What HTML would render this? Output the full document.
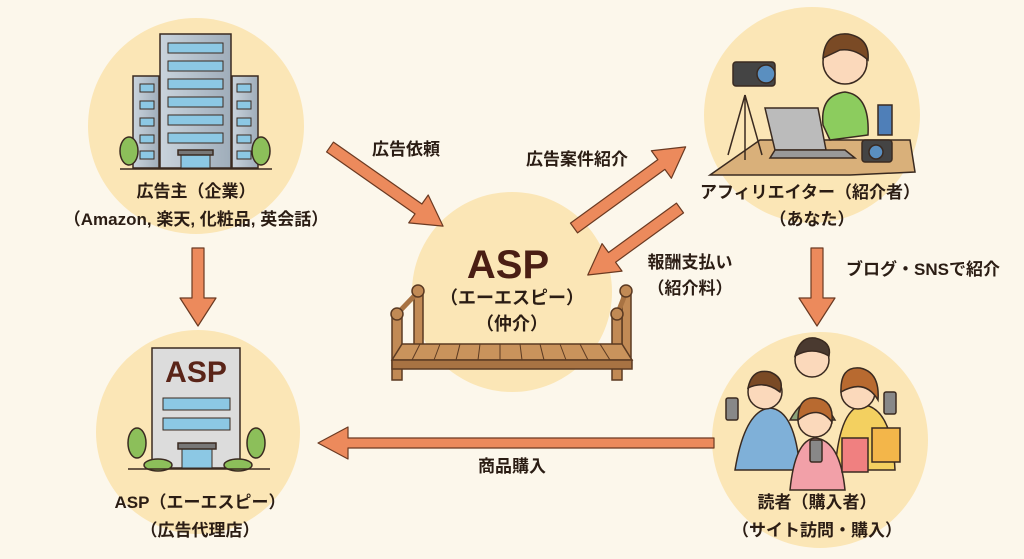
<!DOCTYPE html>
<html><head><meta charset="utf-8"><style>
html,body{margin:0;padding:0;background:#fcf7eb;}
svg{display:block;}
text{font-family:"Liberation Sans","Noto Sans CJK JP",sans-serif;fill:#2b1d14;font-weight:bold;}
</style></head><body>
<svg width="1024" height="559" viewBox="0 0 1024 559" xmlns="http://www.w3.org/2000/svg">
<defs>
<linearGradient id="bld" x1="0" x2="1"><stop offset="0" stop-color="#c9d3dc"/><stop offset="1" stop-color="#9fadba"/></linearGradient>
</defs>
<rect width="1024" height="559" fill="#fcf7eb"/>
<circle cx="196" cy="126" r="108" fill="#fbe6b6"/>
<circle cx="512" cy="292" r="100" fill="#fbe6b6"/>
<circle cx="812" cy="115" r="108" fill="#fbe6b6"/>
<circle cx="198" cy="432" r="102" fill="#fbe6b6"/>
<circle cx="820" cy="440" r="108" fill="#fbe6b6"/>

<g stroke="#3a2a20" stroke-width="1.5">
<rect x="133" y="76" width="26" height="92" fill="url(#bld)"/>
<rect x="232" y="76" width="26" height="92" fill="url(#bld)"/>
<rect x="160" y="34" width="71" height="134" fill="url(#bld)"/>
<g fill="#8cc8e4" stroke-width="1">
<rect x="168" y="43" width="55" height="10"/><rect x="168" y="61" width="55" height="10"/>
<rect x="168" y="79" width="55" height="10"/><rect x="168" y="97" width="55" height="10"/>
<rect x="168" y="115" width="55" height="10"/><rect x="168" y="133" width="55" height="10"/>
<rect x="140" y="84" width="14" height="8"/><rect x="140" y="101" width="14" height="8"/><rect x="140" y="118" width="14" height="8"/><rect x="140" y="135" width="14" height="8"/><rect x="140" y="151" width="14" height="8"/>
<rect x="237" y="84" width="14" height="8"/><rect x="237" y="101" width="14" height="8"/><rect x="237" y="118" width="14" height="8"/><rect x="237" y="135" width="14" height="8"/><rect x="237" y="151" width="14" height="8"/>
<rect x="181" y="154" width="29" height="14"/>
</g>
<rect x="178" y="150" width="35" height="5" fill="#777"/>
<ellipse cx="129" cy="151" rx="9" ry="14" fill="#8cbf5a"/><ellipse cx="261" cy="151" rx="9" ry="14" fill="#8cbf5a"/>
<line x1="120" y1="169" x2="272" y2="169"/>
</g>

<g stroke="#3a2a20" stroke-width="1.5">
<rect x="152" y="348" width="88" height="120" fill="#dcdcdc"/>
<g fill="#8cc8e4" stroke-width="1">
<rect x="163" y="398" width="67" height="12"/><rect x="163" y="418" width="67" height="12"/>
<rect x="182" y="448" width="30" height="20"/>
</g>
<rect x="178" y="443" width="38" height="6" fill="#777"/>
<ellipse cx="137" cy="443" rx="9" ry="15" fill="#8cbf5a"/><ellipse cx="256" cy="443" rx="9" ry="15" fill="#8cbf5a"/>
<ellipse cx="158" cy="465" rx="14" ry="6" fill="#8cbf5a"/><ellipse cx="238" cy="465" rx="14" ry="6" fill="#8cbf5a"/>
<line x1="128" y1="469" x2="270" y2="469"/>
</g>
<text x="196" y="382" font-size="30" text-anchor="middle" style="fill:#5a2418">ASP</text>

<g stroke="#5b3a22" stroke-width="1.5" fill="#c18a55">
<rect x="392" y="315" width="10" height="65"/><rect x="414" y="292" width="9" height="75"/>
<rect x="622" y="292" width="9" height="75"/><rect x="612" y="315" width="10" height="65"/>
<line x1="396" y1="315" x2="418" y2="292" stroke-width="5" stroke="#a87343"/>
<line x1="626" y1="292" x2="617" y2="315" stroke-width="5" stroke="#a87343"/>
<circle cx="397" cy="314" r="6"/><circle cx="418" cy="291" r="6"/><circle cx="626" cy="291" r="6"/><circle cx="617" cy="314" r="6"/>
<polygon points="402,344 622,344 632,360 392,360" fill="#c9935c"/>
<rect x="392" y="360" width="240" height="9" fill="#a87343"/>
<g stroke-width="1"><line x1="420" y1="344" x2="412" y2="360"/><line x1="440" y1="344" x2="434" y2="360"/><line x1="460" y1="344" x2="456" y2="360"/><line x1="480" y1="344" x2="478" y2="360"/><line x1="500" y1="344" x2="500" y2="360"/><line x1="520" y1="344" x2="522" y2="360"/><line x1="540" y1="344" x2="544" y2="360"/><line x1="560" y1="344" x2="566" y2="360"/><line x1="580" y1="344" x2="588" y2="360"/><line x1="600" y1="344" x2="610" y2="360"/></g>
</g>

<g stroke="#3a2a20" stroke-width="1.5">
<polygon points="710,175 760,140 910,140 915,172 850,175" fill="#d9b07a"/>
<line x1="745" y1="95" x2="728" y2="155"/><line x1="745" y1="95" x2="745" y2="160"/><line x1="745" y1="95" x2="762" y2="155"/>
<rect x="733" y="62" width="42" height="24" rx="3" fill="#444"/><circle cx="766" cy="74" r="9" fill="#5a8fc0"/>
<rect x="878" y="105" width="14" height="30" fill="#4f7fb8"/>
<path d="M823,125 Q820,95 845,92 Q870,95 868,135 L830,140 Z" fill="#8ccc5e"/>
<circle cx="845" cy="62" r="22" fill="#fbd9bb"/>
<path d="M823,58 Q825,32 848,34 Q870,38 868,60 Q855,48 840,50 Z" fill="#7a4a25"/>
<polygon points="765,108 818,108 826,150 775,150" fill="#bbbbbb"/>
<polygon points="775,150 845,150 855,158 770,158" fill="#999"/>
<rect x="862" y="140" width="30" height="22" rx="3" fill="#444"/><circle cx="876" cy="152" r="7" fill="#5a8fc0"/>
</g>

<g stroke="#3a2a20" stroke-width="1.5">
<path d="M735,470 Q745,410 770,408 Q795,410 800,470 Z" fill="#7fb0d8"/>
<path d="M790,420 Q812,380 835,420 Z" fill="#8ca37a"/>
<path d="M835,470 Q840,405 865,405 Q892,410 895,470 Z" fill="#f3d060"/>
<path d="M790,490 Q795,440 815,438 Q840,440 845,490 Z" fill="#f2a0a8"/>
<circle cx="765" cy="392" r="17" fill="#fbd9bb"/><path d="M748,388 Q752,368 770,372 Q785,378 780,392 Q765,380 748,388Z" fill="#7a4a25"/>
<circle cx="812" cy="360" r="17" fill="#fbd9bb"/><path d="M795,356 Q800,336 815,338 Q832,342 829,356 Q812,346 795,356Z" fill="#4a3a30"/>
<circle cx="858" cy="392" r="17" fill="#fbd9bb"/><path d="M841,392 Q840,366 860,368 Q880,372 878,400 Q865,378 841,392Z" fill="#b86a30"/>
<circle cx="815" cy="420" r="17" fill="#fbd9bb"/><path d="M798,420 Q798,396 816,398 Q834,400 832,422 Q818,404 798,420Z" fill="#b86a30"/>
<rect x="726" y="398" width="12" height="22" rx="2" fill="#888"/>
<rect x="884" y="392" width="12" height="22" rx="2" fill="#888"/>
<rect x="810" y="440" width="12" height="22" rx="2" fill="#888"/>
<rect x="842" y="438" width="26" height="34" fill="#f08080"/>
<rect x="872" y="428" width="28" height="34" fill="#f3b64a"/>
</g>

<g fill="#ec8a5c" stroke="#6b3a22" stroke-width="1.2" stroke-linejoin="round">
<polygon transform="translate(330,147) rotate(35)" points="0,-6 108,-6 108,-17 138,0 108,17 108,6 0,6"/>
<polygon transform="translate(574,228) rotate(-36)" points="0,-6 108,-6 108,-17 138,0 108,17 108,6 0,6"/>
<polygon transform="translate(680,208) rotate(144)" points="0,-6 84,-6 84,-17 114,0 84,17 84,6 0,6"/>
<polygon transform="translate(198,248) rotate(90)" points="0,-6 50,-6 50,-18 78,0 50,18 50,6 0,6"/>
<polygon transform="translate(817,248) rotate(90)" points="0,-6 50,-6 50,-18 78,0 50,18 50,6 0,6"/>
<polygon transform="translate(714,443) rotate(180)" points="0,-5 366,-5 366,-16 396,0 366,16 366,5 0,5"/>
</g>

<g font-size="17" text-anchor="middle">
<text x="196" y="197">広告主（企業）</text>
<text x="196" y="225">（Amazon, 楽天, 化粧品, 英会話）</text>
<text x="406" y="155">広告依頼</text>
<text x="577" y="165">広告案件紹介</text>
<text x="810" y="198">アフィリエイター（紹介者）</text>
<text x="812" y="225">（あなた）</text>
<text x="690" y="268">報酬支払い</text>
<text x="690" y="294">（紹介料）</text>
<text x="923" y="275">ブログ・SNSで紹介</text>
<text x="512" y="472">商品購入</text>
<text x="200" y="508">ASP（エーエスピー）</text>
<text x="200" y="536">（広告代理店）</text>
<text x="817" y="508">読者（購入者）</text>
<text x="817" y="536">（サイト訪問・購入）</text>
<text x="512" y="304" font-size="18">（エーエスピー）</text>
<text x="512" y="330" font-size="18">（仲介）</text>
<text x="508" y="278" font-size="40" style="fill:#4a1e14">ASP</text>
</g>
</svg>
</body></html>
